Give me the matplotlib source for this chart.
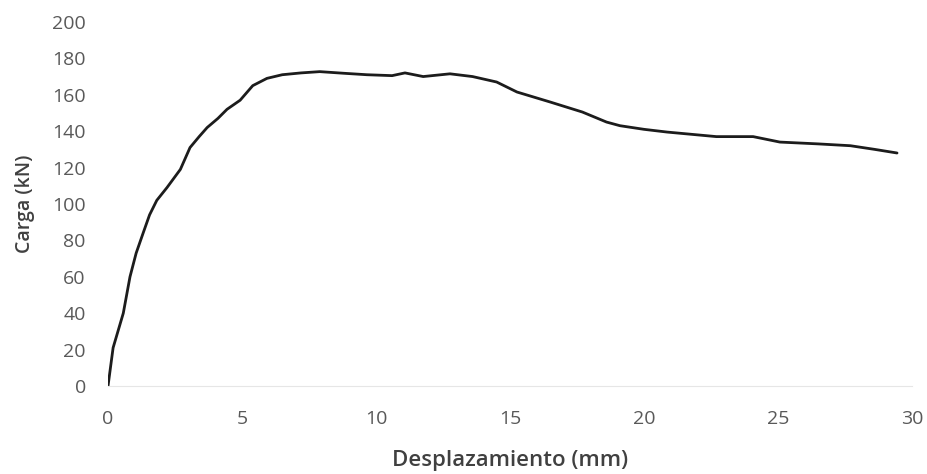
import matplotlib.pyplot as plt

plt.rcParams['font.family'] = ['Open Sans', 'DejaVu Sans']

# Load-displacement curve
desplazamiento = [0.0, 0.19, 0.57, 0.82, 1.05, 1.31, 1.55, 1.82, 2.2, 2.7, 3.06, 3.4, 3.7,
                  4.1, 4.44, 4.93, 5.4, 5.93, 6.5, 7.2, 7.9, 8.8, 9.66, 10.6, 11.08,
                  11.76, 12.76, 13.6, 14.5, 15.26, 16.5, 17.7, 18.6, 19.1, 20.0,
                  20.86, 22.7, 24.07, 25.07, 26.5, 27.7, 28.6, 29.44]
carga = [0, 21, 40, 60, 73, 84, 94, 102, 109, 119, 131, 137, 142,
         147, 152, 157, 165, 169, 171, 172, 172.7, 171.8, 171, 170.5, 172,
         170, 171.5, 170, 167, 161.5, 156, 150.5, 145, 143, 141,
         139.5, 137, 137, 134, 133, 132, 130, 128]

x_ticks = [0, 5, 10, 15, 20, 25, 30]
y_ticks = list(range(0, 201, 20))

fig = plt.figure(figsize=(9.28, 4.74), dpi=100)
ax = fig.add_axes([0.1164, 0.1857, 0.8664, 0.768])

ax.plot(desplazamiento, carga, color='#1c1c1c', lw=2.0,
        solid_capstyle='round', solid_joinstyle='round')

ax.set_xlim(0, 30)
ax.set_ylim(0, 200)
ax.set_xticks(x_ticks)
ax.set_yticks(y_ticks)
ax.tick_params(length=0, labelsize=14, labelcolor='#595959')
ax.tick_params(axis='x', pad=17)
ax.tick_params(axis='y', pad=16)

for s in ['top', 'right', 'left']:
    ax.spines[s].set_visible(False)
ax.spines['bottom'].set_color('#e6e6e6')

ax.set_xlabel('Desplazamiento (mm)', fontsize=16, color='#404040',
              fontweight='semibold', labelpad=16)
ax.set_ylabel('Carga (kN)', fontsize=14, color='#404040',
              fontweight='semibold', labelpad=12)

fig.savefig('out.png', dpi=100)
